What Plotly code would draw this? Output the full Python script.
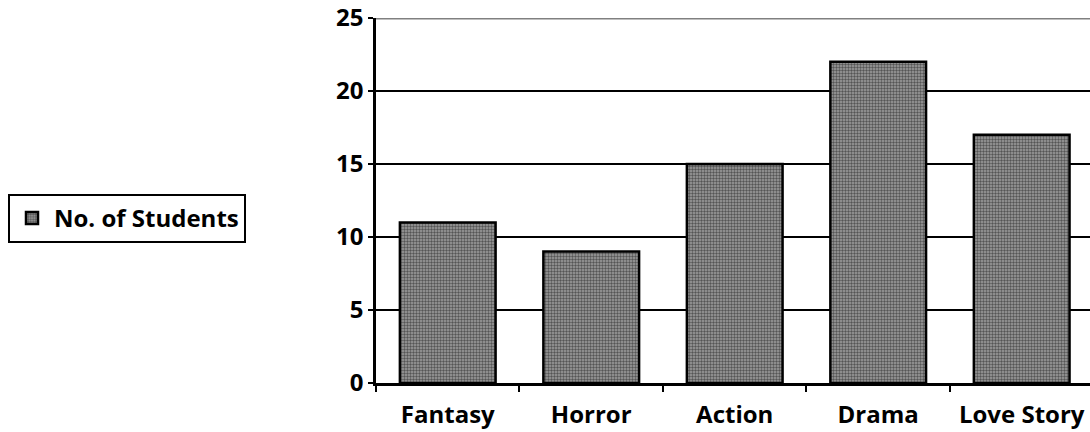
import plotly.graph_objects as go

# Favourite film genre survey
genres = ["Fantasy", "Horror", "Action", "Drama", "Love Story"]
students = [11, 9, 15, 22, 17]
y_ticks = [0, 5, 10, 15, 20, 25]

FONT = dict(family="Open Sans", size=24, color="black", weight="bold")

fig = go.Figure()
fig.add_trace(go.Bar(
    x=genres,
    y=students,
    name="No. of Students",
    marker=dict(
        color="#8c8c8c",
        line=dict(color="black", width=2.5),
        pattern=dict(shape=".", size=3, solidity=0.5,
                     fgcolor="#555555", bgcolor="#a0a0a0", fillmode="replace"),
    ),
))

fig.update_layout(
    width=1090,
    height=432,
    margin=dict(l=376, r=0, t=18, b=49),
    paper_bgcolor="white",
    plot_bgcolor="white",
    bargap=0.333,
    font=FONT,
    showlegend=True,
    legend=dict(
        xref="container", yref="container",
        x=8 / 1090, y=1 - 194 / 432,
        xanchor="left", yanchor="top",
        bordercolor="black", borderwidth=2,
        bgcolor="white",
        font=FONT,
        itemwidth=34,
    ),
    xaxis=dict(
        type="category",
        range=[-0.5, 4.476],
        showgrid=False,
        showline=True, linecolor="black", linewidth=3,
        ticks="outside", tickson="boundaries", ticklen=6, tickwidth=2, tickcolor="black",
        tickfont=FONT,
        ticklabelstandoff=8,
    ),
    yaxis=dict(
        range=[0, 25],
        tickvals=y_ticks,
        showgrid=True, gridcolor="black", gridwidth=2,
        showline=True, linecolor="black", linewidth=2.5,
        ticks="outside", ticklen=5, tickwidth=2, tickcolor="black",
        tickfont=FONT,
        ticklabelstandoff=0,
        zeroline=False,
    ),
)

# grey plot-area border along the top edge
fig.add_shape(type="line", xref="paper", yref="y", x0=0, x1=1, y0=25, y1=25,
              line=dict(color="#808080", width=3), layer="above")

fig.write_html("out.html")
